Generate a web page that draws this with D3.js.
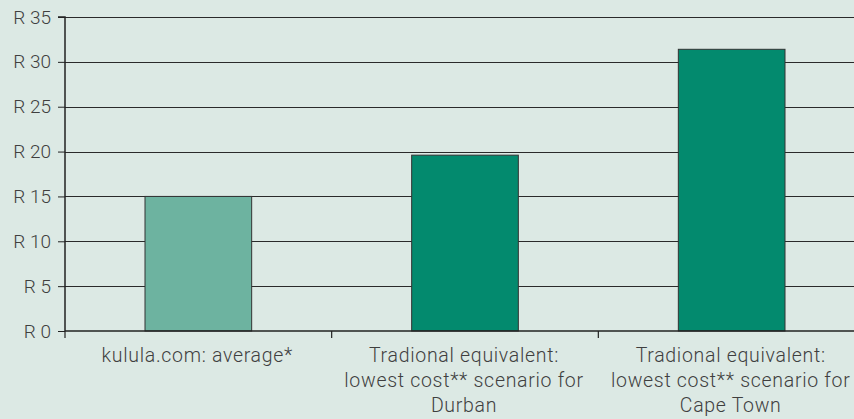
<!DOCTYPE html>
<html>
<head>
<meta charset="utf-8">
<script src="https://cdn.jsdelivr.net/npm/d3@7"></script>
<style>
  html, body { margin: 0; padding: 0; background: #dce9e4; }
  svg { display: block; }
  text { font-family: "Roboto", "DejaVu Sans", sans-serif; font-weight: 300; fill: #3f3f3f; }
</style>
</head>
<body>
<svg id="chart" width="854" height="419"></svg>
<script>
const categories = [
  ["kulula.com: average*"],
  ["Tradional equivalent:", "lowest cost** scenario for", "Durban"],
  ["Tradional equivalent:", "lowest cost** scenario for", "Cape Town"]
];
const values = [15.0, 19.6, 31.4];
const barColors = ["#6db3a0", "#038a6e", "#038a6e"];
const yTicks = [0, 5, 10, 15, 20, 25, 30, 35];

const svg = d3.select("#chart");
const margin = { left: 65, top: 17, right: -11, bottom: 88 };
const W = 854, H = 419;

const band = d3.scaleBand()
  .domain(d3.range(categories.length))
  .range([margin.left, W - margin.right]);
const y = d3.scaleLinear().domain([0, 35]).range([H - margin.bottom, margin.top]);

// gridlines
svg.append("g").selectAll("line").data(yTicks.filter(d => d > 0)).join("line")
  .attr("x1", margin.left).attr("x2", W)
  .attr("y1", d => Math.round(y(d)) + 0.5).attr("y2", d => Math.round(y(d)) + 0.5)
  .attr("stroke", "#2a2a2a").attr("stroke-width", 1);

// bars
svg.append("g").selectAll("rect").data(values).join("rect")
  .attr("x", (d, i) => band(i) + band.bandwidth() * 0.3)
  .attr("width", band.bandwidth() * 0.4)
  .attr("y", d => y(d))
  .attr("height", d => y(0) - y(d))
  .attr("fill", (d, i) => barColors[i])
  .attr("stroke", "#333").attr("stroke-width", 1);

// y axis
const yAxis = d3.axisLeft(y).tickValues(yTicks).tickSize(7).tickPadding(7)
  .tickFormat(d => "R " + d);
const gy = svg.append("g").attr("transform", `translate(${margin.left},0)`).call(yAxis);
gy.select(".domain").attr("stroke", "#222").attr("stroke-width", 1.5)
  .attr("d", `M-7,${y(35)}H0V${y(0)}`);
gy.selectAll(".tick line").attr("stroke", "#222");
gy.selectAll(".tick text").style("font-size", "19px").style("font-family", null).attr("fill", null);

// x axis baseline
svg.append("line")
  .attr("x1", margin.left).attr("x2", W)
  .attr("y1", y(0)).attr("y2", y(0))
  .attr("stroke", "#222").attr("stroke-width", 1.5);
// category boundary ticks
svg.append("g").selectAll("line").data(d3.range(categories.length + 1)).join("line")
  .attr("x1", i => i < categories.length ? band(i) : band(i - 1) + band.bandwidth())
  .attr("x2", i => i < categories.length ? band(i) : band(i - 1) + band.bandwidth())
  .attr("y1", y(0)).attr("y2", y(0) + 7)
  .attr("stroke", "#222").attr("stroke-width", 1.2);

// category labels
const lbl = svg.append("g").selectAll("text").data(categories).join("text")
  .attr("text-anchor", "middle")
  .style("font-size", "19.5px")
  .style("letter-spacing", "0.7px")
  .attr("transform", (d, i) => `translate(${band(i) + band.bandwidth() / 2 - 1},${y(0) + 31})`);
lbl.selectAll("tspan").data(d => d).join("tspan")
  .attr("x", 0).attr("dy", (d, j) => j === 0 ? 0 : 25)
  .text(d => d);
</script>
</body>
</html>
